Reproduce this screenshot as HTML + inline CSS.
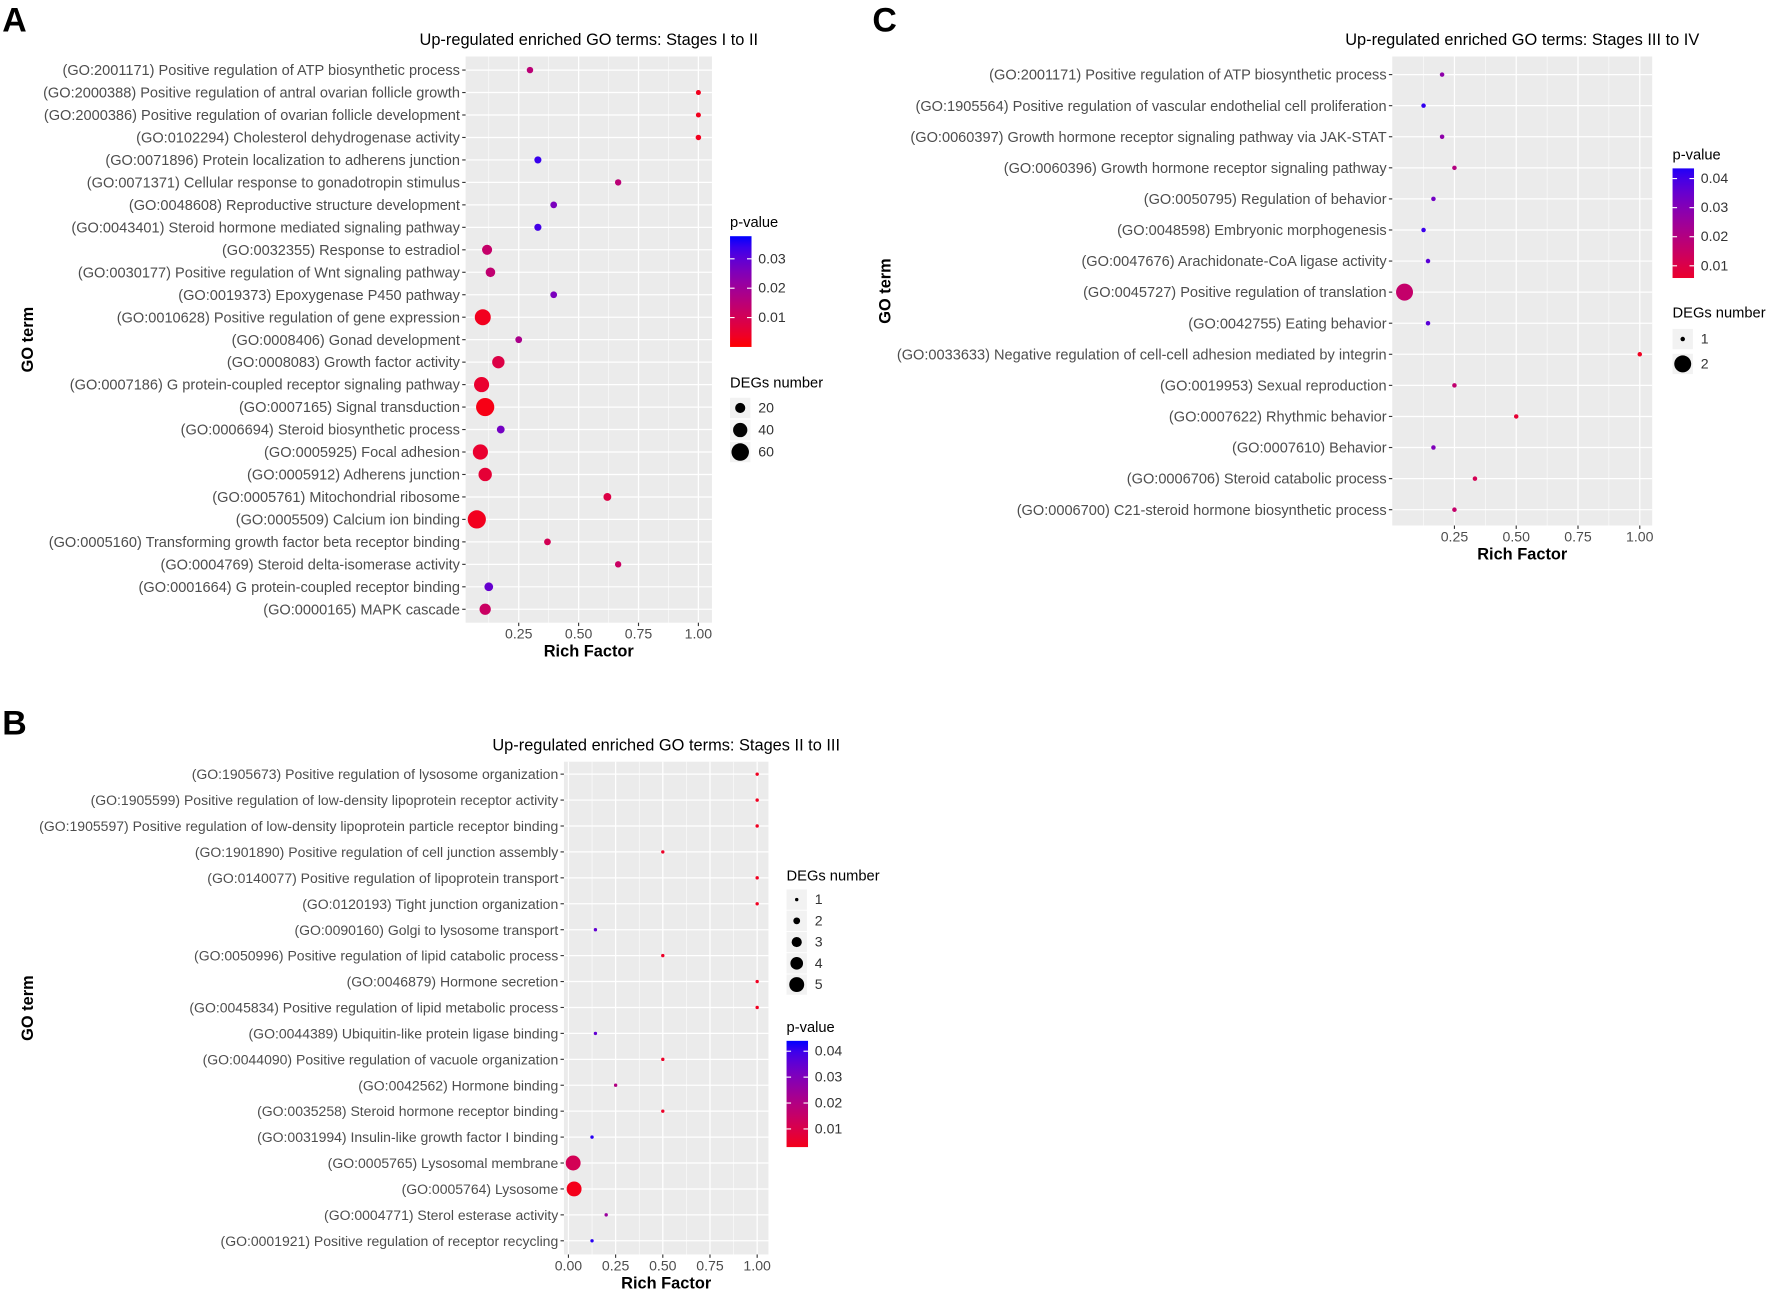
<!DOCTYPE html>
<html><head><meta charset="utf-8"><style>
html,body{margin:0;padding:0;background:#fff;}
svg{display:block;font-family:"Liberation Sans",Arial,sans-serif;}
</style></head><body>
<svg id="fig" width="1772" height="1294" viewBox="0 0 1568 1145" preserveAspectRatio="none" xmlns="http://www.w3.org/2000/svg"></svg>
<script>
// ---------- Panel A data ----------
const termsA = ["(GO:2001171) Positive regulation of ATP biosynthetic process","(GO:2000388) Positive regulation of antral ovarian follicle growth","(GO:2000386) Positive regulation of ovarian follicle development","(GO:0102294) Cholesterol dehydrogenase activity","(GO:0071896) Protein localization to adherens junction","(GO:0071371) Cellular response to gonadotropin stimulus","(GO:0048608) Reproductive structure development","(GO:0043401) Steroid hormone mediated signaling pathway","(GO:0032355) Response to estradiol","(GO:0030177) Positive regulation of Wnt signaling pathway","(GO:0019373) Epoxygenase P450 pathway","(GO:0010628) Positive regulation of gene expression","(GO:0008406) Gonad development","(GO:0008083) Growth factor activity","(GO:0007186) G protein-coupled receptor signaling pathway","(GO:0007165) Signal transduction","(GO:0006694) Steroid biosynthetic process","(GO:0005925) Focal adhesion","(GO:0005912) Adherens junction","(GO:0005761) Mitochondrial ribosome","(GO:0005509) Calcium ion binding","(GO:0005160) Transforming growth factor beta receptor binding","(GO:0004769) Steroid delta-isomerase activity","(GO:0001664) G protein-coupled receptor binding","(GO:0000165) MAPK cascade"];
const richA = [0.297,1.0,1.0,1.0,0.33,0.665,0.396,0.33,0.118,0.132,0.396,0.10,0.25,0.165,0.095,0.11,0.175,0.09,0.11,0.62,0.075,0.37,0.665,0.125,0.11];
const countA = [8,5,5,6,10,8,9,10,20,18,9,50,9,30,45,65,12,45,35,12,65,9,8,15,25];
const pA = [0.015,0.003,0.003,0.003,0.034,0.015,0.026,0.033,0.013,0.014,0.026,0.003,0.018,0.008,0.005,0.002,0.027,0.005,0.006,0.008,0.003,0.01,0.012,0.029,0.012];
const xTicksA = [0.25,0.5,0.75,1.0];
const xTickLabelsA = ["0.25","0.50","0.75","1.00"];
const pTicksA = [0.01,0.02,0.03];
const sizeLegendA = [20,40,60];

// ---------- Panel B data ----------
const termsB = ["(GO:1905673) Positive regulation of lysosome organization","(GO:1905599) Positive regulation of low-density lipoprotein receptor activity","(GO:1905597) Positive regulation of low-density lipoprotein particle receptor binding","(GO:1901890) Positive regulation of cell junction assembly","(GO:0140077) Positive regulation of lipoprotein transport","(GO:0120193) Tight junction organization","(GO:0090160) Golgi to lysosome transport","(GO:0050996) Positive regulation of lipid catabolic process","(GO:0046879) Hormone secretion","(GO:0045834) Positive regulation of lipid metabolic process","(GO:0044389) Ubiquitin-like protein ligase binding","(GO:0044090) Positive regulation of vacuole organization","(GO:0042562) Hormone binding","(GO:0035258) Steroid hormone receptor binding","(GO:0031994) Insulin-like growth factor I binding","(GO:0005765) Lysosomal membrane","(GO:0005764) Lysosome","(GO:0004771) Sterol esterase activity","(GO:0001921) Positive regulation of receptor recycling"];
const richB = [1,1,1,0.5,1,1,0.143,0.5,1,1,0.143,0.5,0.25,0.5,0.125,0.025,0.03,0.2,0.125];
const countB = [1,1,1,1,1,1,1,1,1,1,1,1,1,1,1,5,5,1,1];
const pB = [0.004,0.004,0.004,0.005,0.004,0.004,0.035,0.005,0.004,0.004,0.035,0.005,0.02,0.005,0.042,0.012,0.003,0.025,0.042];
const xTicksB = [0,0.25,0.5,0.75,1.0];
const xTickLabelsB = ["0.00","0.25","0.50","0.75","1.00"];
const pTicksB = [0.01,0.02,0.03,0.04];
const sizeLegendB = [1,2,3,4,5];

// ---------- Panel C data ----------
const termsC = ["(GO:2001171) Positive regulation of ATP biosynthetic process","(GO:1905564) Positive regulation of vascular endothelial cell proliferation","(GO:0060397) Growth hormone receptor signaling pathway via JAK-STAT","(GO:0060396) Growth hormone receptor signaling pathway","(GO:0050795) Regulation of behavior","(GO:0048598) Embryonic morphogenesis","(GO:0047676) Arachidonate-CoA ligase activity","(GO:0045727) Positive regulation of translation","(GO:0042755) Eating behavior","(GO:0033633) Negative regulation of cell-cell adhesion mediated by integrin","(GO:0019953) Sexual reproduction","(GO:0007622) Rhythmic behavior","(GO:0007610) Behavior","(GO:0006706) Steroid catabolic process","(GO:0006700) C21-steroid hormone biosynthetic process"];
const richC = [0.2,0.125,0.2,0.25,0.165,0.125,0.143,0.048,0.143,1.0,0.25,0.5,0.165,0.333,0.25];
const countC = [1,1,1,1,1,1,1,2,1,1,1,1,1,1,1];
const pC = [0.028,0.042,0.028,0.02,0.033,0.041,0.037,0.016,0.037,0.004,0.017,0.007,0.031,0.012,0.016];
const xTicksC = [0.25,0.5,0.75,1.0];
const xTickLabelsC = ["0.25","0.50","0.75","1.00"];
const pTicksC = [0.01,0.02,0.03,0.04];
const sizeLegendC = [1,2];

const NS="http://www.w3.org/2000/svg";
const svg=document.getElementById('fig');
function mk(tag,attrs,parent){const e=document.createElementNS(NS,tag);for(const k in attrs)e.setAttribute(k,attrs[k]);(parent||svg).appendChild(e);return e;}
function txt(s,attrs,parent){const e=mk('text',attrs,parent);e.textContent=s;return e;}
function pcol(p,lo,hi){let t=(p-lo)/(hi-lo);t=Math.max(0,Math.min(1,t));
  const r=Math.round(255*Math.pow(1-t,0.6)),b=Math.round(255*Math.pow(t,0.85));
  return `rgb(${r},0,${b})`;}

function panel(cfg){
  const g=mk('g',{});
  
  
  const {L,R,T,B,x0,x1,v0,v1,y0,dy}=cfg;
  const sx=v=>x0+(v-v0)*(x1-x0)/(v1-v0);
  const sy=i=>y0+i*dy;
  const bg=mk('rect',{x:L,y:T,width:R-L,height:B-T,fill:'#EBEBEB'},g);
  
  
  for(let i=0;i<cfg.xt.length-1;i++){const m=(cfg.xt[i]+cfg.xt[i+1])/2;mk('line',{x1:sx(m),x2:sx(m),y1:T,y2:B,stroke:'#fff','stroke-width':0.5},g);}
  if(cfg.xt[0]-0.125>=cfg.vmin){const m=cfg.xt[0]-0.125;mk('line',{x1:sx(m),x2:sx(m),y1:T,y2:B,stroke:'#fff','stroke-width':0.5},g);}
  cfg.xt.forEach((v,i)=>{mk('line',{x1:sx(v),x2:sx(v),y1:T,y2:B,stroke:'#fff','stroke-width':1.1},g);
    mk('line',{x1:sx(v),x2:sx(v),y1:B,y2:B+3,stroke:'#333','stroke-width':1},g);
    const t=txt(cfg.xl[i],{x:sx(v),y:B+14,'font-size':12.5,fill:'#4d4d4d','text-anchor':'middle'},g);
    });
  cfg.terms.forEach((s,i)=>{const y=sy(i);
    mk('line',{x1:L,x2:R,y1:y,y2:y,stroke:'#fff','stroke-width':1.1},g);
    mk('line',{x1:L-3,x2:L,y1:y,y2:y,stroke:'#333','stroke-width':1},g);
    const t=txt(s,{x:L-5,y:y+4.5,'font-size':cfg.fs,fill:'#4d4d4d','text-anchor':'end'},g);
    });
  cfg.terms.forEach((s,i)=>{
    const c=mk('circle',{cx:sx(cfg.rich[i]),cy:sy(i),r:cfg.rs(cfg.count[i]),fill:pcol(cfg.p[i],cfg.plo,cfg.phi)},g);
    });
  const xt=txt('Rich Factor',{x:(L+R)/2,y:B+30,'font-size':14.5,'font-weight':'bold','text-anchor':'middle',fill:'#000'},g);
  
  const yt=txt('GO term',{x:0,y:0,'font-size':14.5,'font-weight':'bold','text-anchor':'middle',transform:`translate(${cfg.ytx},${(T+B)/2}) rotate(-90)`},g);
  
  const tt=txt(cfg.title,{x:(L+R)/2+cfg.titleOff,y:T-10,'font-size':14.5,'text-anchor':'middle',fill:'#000'},g);
  
  const lt=txt(cfg.letter,{x:cfg.lx,y:cfg.ly,'font-size':30,'font-weight':'bold'},g);
  
  const cb=cfg.cb; const gid='grad'+cfg.letter;
  const defs=mk('defs',{},g);const lg=mk('linearGradient',{id:gid,x1:0,y1:1,x2:0,y2:0},defs);
  for(let k=0;k<=10;k++){const p=cb.plo+(cb.phi-cb.plo)*k/10;mk('stop',{offset:k/10,'stop-color':pcol(p,cfg.plo,cfg.phi)},lg);}
  const pt=txt('p-value',{x:cb.x,y:cb.y-8,'font-size':13,fill:'#000'},g);
  
  const bar=mk('rect',{x:cb.x,y:cb.y,width:19,height:cb.h,fill:`url(#${gid})`},g);
  
  const py=p=>cb.y+cb.h-(p-cb.plo)/(cb.phi-cb.plo)*cb.h;
  cfg.pt.forEach(p=>{const y=py(p);
    mk('line',{x1:cb.x,x2:cb.x+4,y1:y,y2:y,stroke:'#fff'},g);mk('line',{x1:cb.x+15,x2:cb.x+19,y1:y,y2:y,stroke:'#fff'},g);
    const l=txt(p.toFixed(2),{x:cb.x+25,y:y+4,'font-size':12.5,fill:'#333'},g);
    });
  const sl=cfg.sl;
  const st=txt('DEGs number',{x:sl.x,y:sl.y,'font-size':13,fill:'#000'},g);
  
  cfg.sizes.forEach((n,i)=>{const y=sl.y+sl.y0+i*sl.dy;
    mk('rect',{x:sl.x,y:y-9,width:18,height:18,fill:'#F2F2F2'},g);
    const c=mk('circle',{cx:sl.x+9,cy:y,r:cfg.rs(n),fill:'#000'},g);
    
    const l=txt(String(n),{x:sl.x+25,y:y+4,'font-size':12.5,fill:'#333'},g);
    });
}

panel({name:'panel-a',letter:'A',lx:2,ly:28,title:'Up-regulated enriched GO terms: Stages I to II',titleOff:0,fs:12.9,
  L:412,R:630,T:50,B:551,x0:459,x1:618,v0:0.25,v1:1.0,vmin:0.05,y0:62,dy:19.88,ytx:29,
  terms:termsA,rich:richA,count:countA,p:pA,xt:xTicksA,xl:xTickLabelsA,plo:0.0,phi:0.037,pt:pTicksA,
  rs:n=>Math.max(2,1.0*Math.sqrt(n)),sizes:sizeLegendA,
  cb:{x:646,y:209,h:98,plo:0.0,phi:0.0377},sl:{x:646,y:343,y0:18,dy:19.5}});

panel({name:'panel-b',letter:'B',lx:2,ly:650,title:'Up-regulated enriched GO terms: Stages II to III',titleOff:0,fs:12.4,
  L:499,R:680,T:674,B:1110,x0:503,x1:670,v0:0,v1:1.0,vmin:0,y0:685,dy:22.94,ytx:29,
  terms:termsB,rich:richB,count:countB,p:pB,xt:xTicksB,xl:xTickLabelsB,plo:0.0,phi:0.044,pt:pTicksB,
  rs:n=>[0,1.5,3,4.5,5.6,6.6][n]||1.5,sizes:sizeLegendB,
  cb:{x:696,y:921,h:94,plo:0.003,phi:0.044},sl:{x:696,y:779,y0:17,dy:18.8}});

panel({name:'panel-c',letter:'C',lx:772,ly:28,title:'Up-regulated enriched GO terms: Stages III to IV',titleOff:0,fs:12.9,
  L:1232,R:1462,T:50,B:465,x0:1287,x1:1451,v0:0.25,v1:1.0,vmin:0.03,y0:66,dy:27.5,ytx:788,
  terms:termsC,rich:richC,count:countC,p:pC,xt:xTicksC,xl:xTickLabelsC,plo:0.0,phi:0.045,pt:pTicksC,
  rs:n=>n>=2?7.5:2,sizes:sizeLegendC,
  cb:{x:1480,y:149,h:97,plo:0.0058,phi:0.0435},sl:{x:1480,y:281,y0:19,dy:22}});
</script>
</body></html>
